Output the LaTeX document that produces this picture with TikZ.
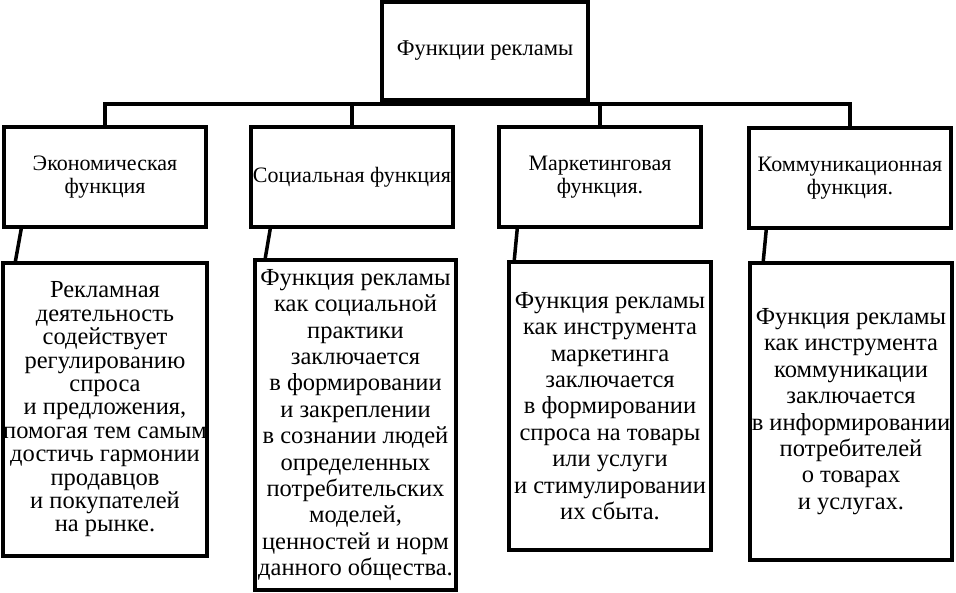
\documentclass[tikz,border=0pt]{standalone}
\usepackage{fontspec}
\setmainfont{Liberation Serif}
\usetikzlibrary{calc}

\begin{document}
\begin{tikzpicture}[x=1pt, y=-1pt, line width=3.5pt,
    box/.style={draw, align=center, inner sep=0pt, minimum width=202pt},
    head/.style={box, minimum height=100pt, font=\fontsize{22}{23.5}\selectfont},
    body/.style={box, font=\fontsize{24.5}{26.4}\selectfont}]
  \useasboundingbox (0,0) rectangle (956,593);

  \node [box, minimum width=206pt, minimum height=98pt,
         font=\fontsize{22.5}{24}\selectfont] (root) at (485,51) {Функции рекламы};

  \node [head] (econ)   at (105,177) {Экономическая\\функция};
  \node [head] (social) at (352,177) {Социальная функция};
  \node [head] (market) at (600,177) {Маркетинговая\\функция.};
  \node [head] (comm)   at (850,178) {Коммуникационная\\функция.};

  \node [body, minimum height=293pt, font=\fontsize{24.5}{23.4}\selectfont] (econtext) at (105,409.5)
    {Рекламная\\деятельность\\содействует\\регулированию\\спроса\\и предложения,\\помогая тем самым\\достичь гармонии\\продавцов\\и покупателей\\на рынке.};
  \node [body, minimum width=201pt, minimum height=330pt] (socialtext) at (355.5,425)
    {Функция рекламы\\как социальной\\практики\\заключается\\в формировании\\и закреплении\\в сознании людей\\определенных\\потребительских\\моделей,\\ценностей и норм\\данного общества.};
  \node [body, minimum height=288pt] (markettext) at (610,406)
    {Функция рекламы\\как инструмента\\маркетинга\\заключается\\в формировании\\спроса на товары\\или услуги\\и стимулировании\\их сбыта.};
  \node [body, minimum height=297pt] (commtext) at (851,411.5)
    {Функция рекламы\\как инструмента\\коммуникации\\заключается\\в информировании\\потребителей\\о товарах\\и услугах.};

  \coordinate (bus) at (0,104);

  \draw (root.south) -- (root.south |- bus);
  \draw (econ.north) -- (econ.north |- bus) -- (comm.north |- bus) -- (comm.north);
  \draw (social.north) -- (social.north |- bus);
  \draw (market.north) -- (market.north |- bus);

  \foreach \a/\b/\s/\e in {econ/econtext/19/14, social/socialtext/21/12,
                            market/markettext/20/7, comm/commtext/19/15}
    \draw ([xshift=\s pt]\a.south west) -- ([xshift=\e pt]\b.north west);
\end{tikzpicture}
\end{document}
